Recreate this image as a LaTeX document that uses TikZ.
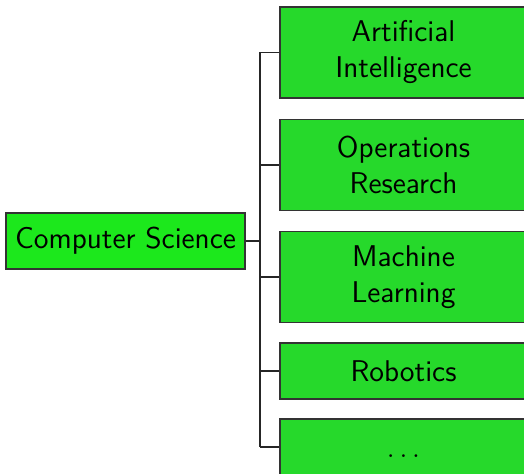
\documentclass[tikz,border=0pt]{standalone}
\usepackage{tikz}

\definecolor{rootgreen}{RGB}{28,232,28}
\definecolor{leafgreen}{RGB}{38,217,43}

\tikzset{
    box/.style={draw=black!80, line width=0.6pt, align=center, font=\sffamily\fontsize{15}{18}\selectfont, inner sep=0pt},
    rootbox/.style={box, fill=rootgreen, minimum width=119.5pt, minimum height=28pt},
    leafbox/.style={box, fill=leafgreen, minimum width=123.5pt, minimum height=28pt},
    tallbox/.style={leafbox, minimum height=45.5pt},
    link/.style={black!85, line width=0.6pt}
}

\begin{document}
\begin{tikzpicture}[x=0.5pt, y=-0.5pt]
        \clip (0,0) rectangle (524,474);
        \useasboundingbox (0,0) rectangle (524,474);
        \node[rootbox] (cs) at (125.5,241) {Computer Science};
        \node[tallbox] (ai) at (403.5,52.5) {Artificial\\Intelligence};
        \node[tallbox] (or) at (403.5,165) {Operations\\Research};
        \node[tallbox] (ml) at (403.5,277) {Machine\\Learning};
        \node[leafbox] (rob) at (403.5,371) {Robotics};
        \node[leafbox] (etc) at (403.5,447) {\vphantom{Robotics}$\ldots$};
        \coordinate (trunk) at (260,241);
        \draw[link] (cs.east) -- (trunk);
        \draw[link] (ai.west -| trunk) -- (etc.west -| trunk);
        \foreach \leaf in {ai, or, ml, rob, etc}
            \draw[link] (\leaf.west) -- (\leaf.west -| trunk);
    \end{tikzpicture}
\end{document}
